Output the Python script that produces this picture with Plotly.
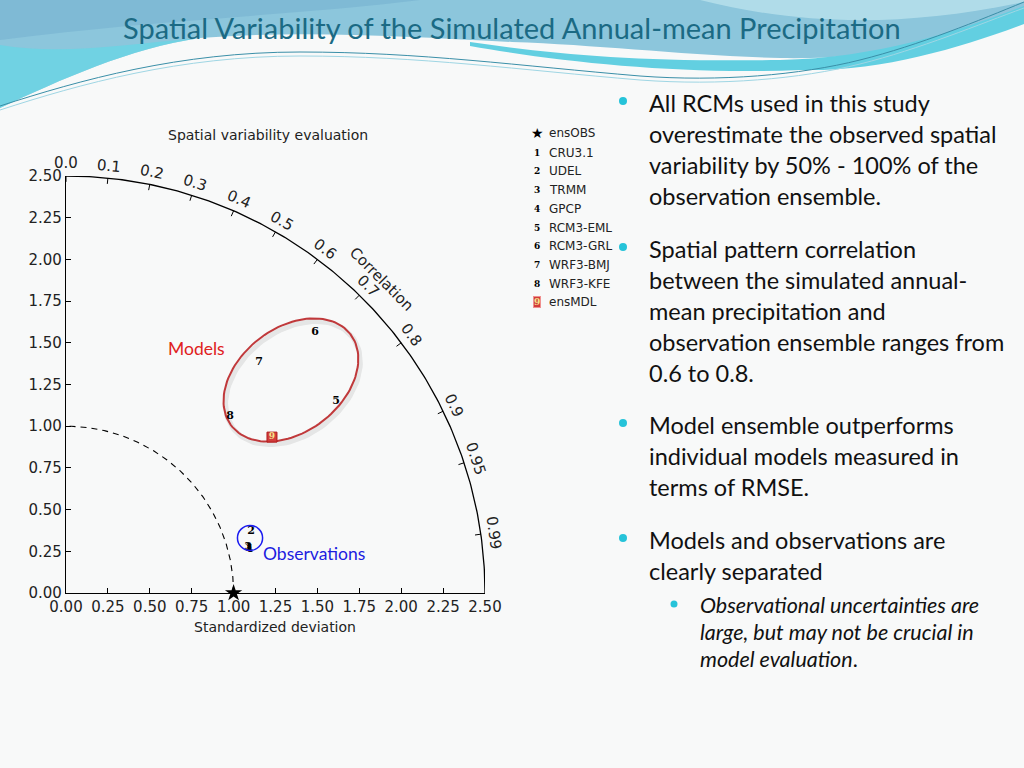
import numpy as np
import plotly.graph_objects as go

# ---------------- data ----------------
model_names = ["CRU3.1", "UDEL", "TRMM", "GPCP", "RCM3-EML", "RCM3-GRL", "WRF3-BMJ", "WRF3-KFE", "ensMDL"]
model_labels = ["1", "2", "3", "4", "5", "6", "7", "8", "9"]
std_dev = [1.12, 1.165, 1.121, 1.125, 1.98, 2.158, 1.801, 1.444, 1.544]
correlation = [0.971, 0.948, 0.969, 0.972, 0.814, 0.689, 0.640, 0.678, 0.796]
ref_name = "ensOBS"
ref_std = 1.0
corr_ticks = [0.0, 0.1, 0.2, 0.3, 0.4, 0.5, 0.6, 0.7, 0.8, 0.9, 0.95, 0.99]
corr_tick_text = ["0.0", "0.1", "0.2", "0.3", "0.4", "0.5", "0.6", "0.7", "0.8", "0.9", "0.95", "0.99"]
std_ticks = [0.0, 0.25, 0.5, 0.75, 1.0, 1.25, 1.5, 1.75, 2.0, 2.25, 2.5]
std_max = 2.5

slide_title = "Spatial Variability of the Simulated Annual-mean Precipitation"
chart_title = "Spatial variability evaluation"
bullets = [
    ["All RCMs used in this study", "overestimate the observed spatial",
     "variability by 50% - 100% of the", "observation ensemble."],
    ["Spatial pattern correlation", "between the simulated annual-",
     "mean precipitation and", "observation ensemble ranges from", "0.6 to 0.8."],
    ["Model ensemble outperforms", "individual models measured in", "terms of RMSE."],
    ["Models and observations are", "clearly separated"],
]
sub_bullet = ["<i>Observational uncertainties are</i>", "<i>large, but may not be crucial in</i>",
              "<i>model evaluation</i>."]

# ---------------- layout constants (pixels) ----------------
W, H = 1024, 768
PX0, PX1 = 66, 485      # x axis 0 .. 2.5
PY0, PY1 = 593, 176     # y axis 0 .. 2.5


def px(x):
    return x / W


def py(y):
    return 1 - y / H


def dpx(x):  # data x -> paper
    return px(PX0 + x * (PX1 - PX0) / std_max)


def dpy(y):  # data y -> paper
    return py(PY0 - y * (PY0 - PY1) / std_max)


def ppath(cmds):
    out = []
    for c in cmds:
        if isinstance(c, str):
            out.append(c)
        else:
            out.append("%.5f,%.5f" % (px(c[0]), py(c[1])))
    return " ".join(out)


def note(x, y, text, font, xanchor="center", yanchor="middle", **kw):
    fig.add_annotation(x=x, y=y, xref="paper", yref="paper", text=text, showarrow=False,
                       xanchor=xanchor, yanchor=yanchor, font=font, **kw)


TICK_FONT = dict(family="DejaVu Sans", size=15, color="#222222")
SLIDE_FONT = "Lato"

fig = go.Figure()

# ---------------- Taylor diagram geometry ----------------
theta = np.linspace(0, np.pi / 2, 200)
fig.add_trace(go.Scatter(x=std_max * np.cos(theta), y=std_max * np.sin(theta), mode="lines",
                         line=dict(color="black", width=1.3), hoverinfo="skip", showlegend=False,
                         cliponaxis=False))
fig.add_trace(go.Scatter(x=ref_std * np.cos(theta), y=ref_std * np.sin(theta), mode="lines",
                         line=dict(color="black", width=1.1, dash="6px,5px"), hoverinfo="skip",
                         showlegend=False, cliponaxis=False))

# correlation ticks
tx, ty = [], []
for c in corr_ticks:
    t = np.arccos(c)
    tx += [std_max * np.cos(t), (std_max - 0.035) * np.cos(t), None]
    ty += [std_max * np.sin(t), (std_max - 0.035) * np.sin(t), None]
fig.add_trace(go.Scatter(x=tx, y=ty, mode="lines", line=dict(color="black", width=1),
                         hoverinfo="skip", showlegend=False, cliponaxis=False))

# ---------------- points ----------------
sd = np.array(std_dev)
cr = np.array(correlation)
xs = sd * cr
ys = sd * np.sqrt(1 - cr ** 2)

# ---------------- highlighting ellipse / circle ----------------
ecx, ecy, ea, eb, ephi = 1.342, 1.277, 0.449, 0.311, np.radians(38)
tt = np.linspace(0, 2 * np.pi, 120)
ex = ecx + ea * np.cos(tt) * np.cos(ephi) - eb * np.sin(tt) * np.sin(ephi)
ey = ecy + ea * np.cos(tt) * np.sin(ephi) + eb * np.sin(tt) * np.cos(ephi)
fig.add_trace(go.Scatter(x=ex + 0.012, y=ey - 0.018, mode="lines",
                         line=dict(color="rgba(120,120,120,0.15)", width=5),
                         hoverinfo="skip", showlegend=False))
fig.add_trace(go.Scatter(x=ex, y=ey, mode="lines", line=dict(color="#c0393b", width=2),
                         hoverinfo="skip", showlegend=False))

fig.add_trace(go.Scatter(x=[ref_std], y=[0], mode="markers",
                         marker=dict(symbol="star", size=13, color="black"),
                         showlegend=False, cliponaxis=False, name=ref_name))
# draw order so that "3" ends on top of the overlapping observation labels (as in the original)
order = [0, 3, 1, 2, 4, 5, 6, 7]
fig.add_trace(go.Scatter(x=xs[order], y=ys[order], mode="text", text=[model_labels[i] for i in order],
                         textfont=dict(family="DejaVu Serif", size=11, color="black", weight="bold"),
                         showlegend=False, cliponaxis=False))
fig.add_trace(go.Scatter(x=xs[8:], y=ys[8:], mode="markers+text", text=model_labels[8:],
                         marker=dict(symbol="square", size=10, color="#d23c3c",
                                     line=dict(color="#b01c1c", width=1)),
                         textfont=dict(family="DejaVu Serif", size=9, color="#f3e38a", weight="bold"),
                         textposition="middle center", showlegend=False, cliponaxis=False))

fig.add_shape(type="circle", xref="x", yref="y", x0=1.023, x1=1.173, y0=0.255, y1=0.405,
              line=dict(color="#1c1cf0", width=1.5))

# correlation tick labels (paper coords so they are not hidden outside the axis range)
for c, lab in zip(corr_ticks, corr_tick_text):
    t = np.arccos(c)
    r = std_max + 0.075
    note(dpx(r * np.cos(t)), dpy(r * np.sin(t)), lab, TICK_FONT, textangle=90 - np.degrees(t))
note(dpx(2.66 * np.cos(np.pi / 4)), dpy(2.66 * np.sin(np.pi / 4)), "Correlation", TICK_FONT, textangle=45)

note(px(196), py(349), "Models", dict(family=SLIDE_FONT, size=17.5, color="#e02020"))
note(px(261), py(553), "Observations", dict(family=SLIDE_FONT, size=17.5, color="#1c1ce0"), xanchor="left")

# ---------------- chart title / axis title ----------------
note(px(268), py(135), chart_title, dict(family="DejaVu Sans", size=14, color="#222222"))
note(px(275), py(627), "Standardized deviation", dict(family="DejaVu Sans", size=14, color="#222222"))

# ---------------- legend ----------------
leg_y = [133, 153, 171, 190, 209, 228, 246, 265, 284, 302]
note(px(537), py(leg_y[0]), "★", dict(family="DejaVu Sans", size=14, color="black"))
note(px(547), py(leg_y[0]), ref_name, dict(family="DejaVu Sans", size=12, color="#222"), xanchor="left")
for i, (lab, nm) in enumerate(zip(model_labels, model_names)):
    yy = leg_y[i + 1]
    if i < 8:
        note(px(537), py(yy), "<b>%s</b>" % lab, dict(family="DejaVu Serif", size=9, color="black"))
    else:
        note(px(537), py(yy), "<b>%s</b>" % lab, dict(family="DejaVu Serif", size=9, color="#f3e38a"),
             bgcolor="#d23c3c", bordercolor="#f09090", borderpad=0)
    note(px(547), py(yy), nm, dict(family="DejaVu Sans", size=12, color="#222"), xanchor="left")

# ---------------- slide decoration ----------------
shapes = []
shapes.append(dict(type="rect", xref="paper", yref="paper", x0=px(18), x1=px(620), y0=py(655), y1=py(117),
                   fillcolor="white", line=dict(width=0), layer="below"))
shapes.append(dict(type="path", xref="paper", yref="paper", layer="below",
                   path=ppath(["M", (0, 0), "L", (1024, 0), "L", (1024, 10), "C", (950, 40), (880, 60), (780, 58),
                               "C", (680, 55), (600, 45), (512, 42), "C", (400, 36), (300, 30), (200, 38),
                               "C", (130, 48), (60, 80), (0, 108), "Z"]),
                   fillcolor="#8cc6dc", line=dict(width=0)))
shapes.append(dict(type="path", xref="paper", yref="paper", layer="below",
                   path=ppath(["M", (0, 0), "L", (420, 0), "C", (300, 15), (150, 20), (0, 40), "Z"]),
                   fillcolor="rgba(110,170,205,0.45)", line=dict(width=0)))
shapes.append(dict(type="path", xref="paper", yref="paper", layer="below",
                   path=ppath(["M", (0, 45), "C", (60, 55), (120, 45), (200, 38), "C", (130, 48), (60, 80),
                               (0, 108), "Z"]),
                   fillcolor="rgba(100,215,230,0.7)", line=dict(width=0)))
shapes.append(dict(type="path", xref="paper", yref="paper", layer="below",
                   path=ppath(["M", (470, 42), "C", (560, 55), (640, 62), (780, 60), "C", (880, 58), (960, 30),
                               (1024, 6), "L", (1024, 24), "C", (960, 48), (880, 72), (800, 70),
                               "C", (680, 75), (560, 62), (470, 46), "Z"]),
                   fillcolor="#62cfe1", line=dict(width=0)))
shapes.append(dict(type="path", xref="paper", yref="paper", layer="below",
                   path=ppath(["M", (700, 0), "C", (800, 25), (900, 28), (1024, 2), "L", (1024, 0), "Z"]),
                   fillcolor="rgba(200,235,242,0.6)", line=dict(width=0)))
shapes.append(dict(type="path", xref="paper", yref="paper", layer="below",
                   path=ppath(["M", (0, 106), "C", (80, 80), (180, 52), (300, 52), "C", (420, 52), (520, 66),
                               (640, 76), "C", (720, 82), (800, 75), (860, 60), "C", (920, 45), (980, 20),
                               (1024, 2)]),
                   line=dict(color="#3a8fa8", width=1)))
shapes.append(dict(type="path", xref="paper", yref="paper", layer="below",
                   path=ppath(["M", (0, 110), "C", (80, 84), (180, 56), (300, 56), "C", (420, 56), (520, 70),
                               (640, 80), "C", (720, 86), (800, 79), (860, 64), "C", (920, 49), (980, 24),
                               (1024, 8)]),
                   line=dict(color="#9fd6e4", width=1)))
for yy in [101, 247, 423, 538]:
    shapes.append(dict(type="circle", xref="paper", yref="paper", x0=px(619), x1=px(627), y0=py(yy + 4),
                       y1=py(yy - 4), fillcolor="#26c3d9", line=dict(width=0)))
shapes.append(dict(type="circle", xref="paper", yref="paper", x0=px(670.5), x1=px(677.5), y0=py(607.5),
                   y1=py(600.5), fillcolor="#26c3d9", line=dict(width=0)))
fig.update_layout(shapes=shapes)

note(0.5, py(27), slide_title, dict(family=SLIDE_FONT, size=29, color="#1b6a84"))

bullet_y = [[103, 134, 165, 196], [249, 280, 311, 342, 373], [425, 456, 487], [540, 571]]
for lines, ys_ in zip(bullets, bullet_y):
    for ln, yy in zip(lines, ys_):
        note(px(647), py(yy), ln, dict(family=SLIDE_FONT, size=23.5, color="#111111"), xanchor="left")
for ln, yy in zip(sub_bullet, [605, 632, 659]):
    note(px(698), py(yy), ln, dict(family=SLIDE_FONT, size=21.5, color="#111111"), xanchor="left")

# ---------------- axes ----------------
tick_text = ["%.2f" % v for v in std_ticks]
axis_style = dict(range=[0, std_max], tickvals=std_ticks, ticktext=tick_text, ticks="inside", ticklen=5,
                  tickcolor="black", showline=True, linecolor="black", linewidth=1.2, showgrid=False,
                  zeroline=False, tickfont=TICK_FONT, fixedrange=True, automargin=False)
fig.update_xaxes(domain=[px(PX0), px(PX1)], **axis_style)
fig.update_yaxes(domain=[py(PY0), py(PY1)], **axis_style)

fig.update_layout(width=W, height=H, margin=dict(l=0, r=0, t=0, b=0, pad=0, autoexpand=False),
                  paper_bgcolor="#f8f9f9", plot_bgcolor="rgba(0,0,0,0)", showlegend=False)

fig.write_html("out.html", config={"displayModeBar": False},
               post_script="document.body.style.margin='0';")
